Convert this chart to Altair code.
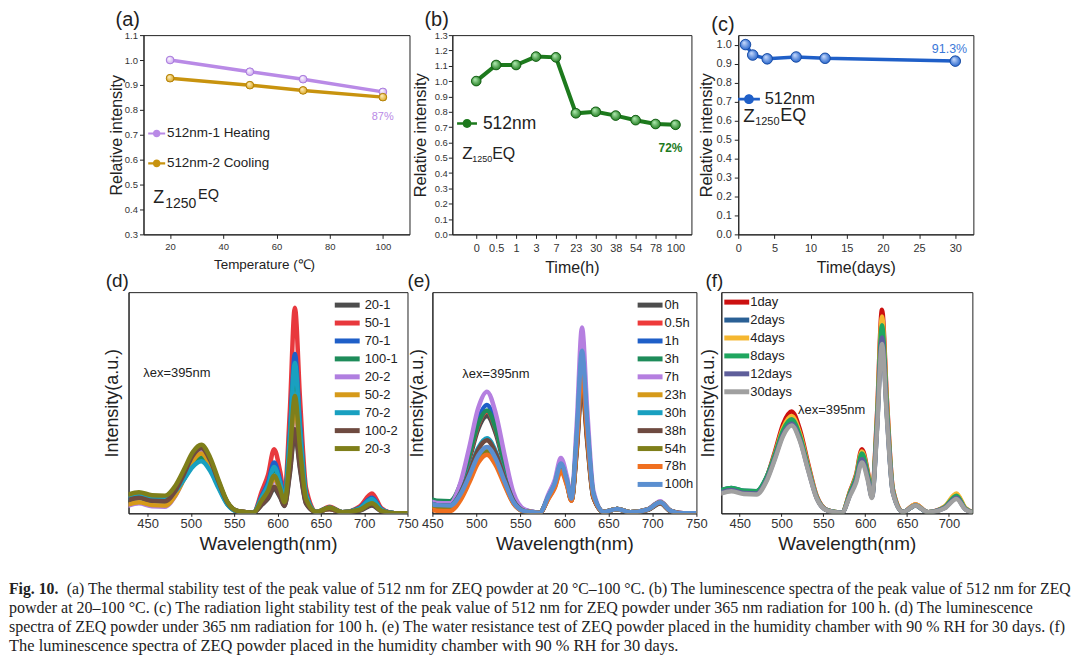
import altair as alt
import pandas as pd

SANS = "Liberation Sans"
SERIF = "Liberation Serif"
INK = "#222222"

# ---------------- (a) thermal stability ----------------
temperature = [20, 50, 70, 100]
heating = [1.0, 0.953, 0.923, 0.872]
cooling = [0.927, 0.899, 0.878, 0.851]
a_series = ["512nm-1 Heating", "512nm-2 Cooling"]
a_colors = ["#b98ae6", "#c8930e"]
a_temp_ticks = [20, 40, 60, 80, 100]
a_int_ticks = [0.3, 0.4, 0.5, 0.6, 0.7, 0.8, 0.9, 1.0, 1.1]

# ---------------- (b) radiation stability ----------------
time_h = ["0", "0.5", "1", "3", "7", "23", "30", "38", "54", "78", "100"]
intensity_h = [1.0, 1.105, 1.105, 1.16, 1.155, 0.79, 0.80, 0.775, 0.745, 0.72, 0.715]
b_int_ticks = [0.0, 0.1, 0.2, 0.3, 0.4, 0.5, 0.6, 0.7, 0.8, 0.9, 1.0, 1.1, 1.2, 1.3]

# ---------------- (c) water resistance ----------------
time_days = [1, 2, 4, 8, 12, 30]
intensity_days = [1.0, 0.945, 0.925, 0.935, 0.928, 0.913]
c_day_ticks = [0, 5, 10, 15, 20, 25, 30]
c_int_ticks = [0.0, 0.1, 0.2, 0.3, 0.4, 0.5, 0.6, 0.7, 0.8, 0.9, 1.0]

# ---------------- spectra (relative height, % of panel) ----------------
wavelength = [428, 440, 455, 470, 482, 492, 502, 512, 522, 532, 542, 555, 572, 582, 589,
              596, 603, 608, 614, 620, 626, 633, 645, 660, 675, 695, 709, 720, 735, 750]
wl_ticks = [450, 500, 550, 600, 650, 700, 750]

d_names = ["20-1", "50-1", "70-1", "100-1", "20-2", "50-2", "70-2", "100-2", "20-3"]
d_colors = ["#4d4d4d", "#e8383d", "#1f5fc8", "#1e8c5a", "#b07fe0", "#d69a1a", "#19a0c0", "#6e4a40", "#7f7f1a"]
d_20_1 = [6, 7, 5.7, 5.5, 10.1, 17.5, 25.6, 29, 23.8, 13.9, 4.9, 0.9, 0.3, 3.9, 6.6, 11, 7.2, 3.3, 17.3, 36, 19.8, 4.3, 0.6, 2, 0.5, 1.2, 3.5, 0.9, 0, 0]
d_50_1 = [6.5, 7.5, 6.2, 6, 10.2, 16.8, 23.9, 27, 22.1, 13, 4.6, 0.8, 0.3, 10.2, 17.4, 29, 18.9, 8.6, 44.8, 93, 51.2, 11.2, 0.6, 3, 0.5, 3.2, 9, 2.3, 0, 0]
d_70_1 = [6.5, 7.5, 6.2, 6, 10, 16.3, 23.1, 26, 21.3, 12.5, 4.4, 0.8, 0.3, 8.1, 13.8, 23, 15, 6.8, 34.7, 72, 39.6, 8.6, 0.6, 2.5, 0.5, 2.5, 7, 1.8, 0, 0]
d_100_1 = [6, 7, 5.7, 5.5, 9.4, 15.5, 22.2, 25, 20.5, 12, 4.3, 0.8, 0.3, 7, 12, 20, 13, 6, 31.7, 66, 36.3, 7.9, 0.6, 2.5, 0.5, 2.1, 6, 1.5, 0, 0]
d_20_2 = [3.5, 4.5, 3.2, 3, 7.9, 15.8, 24.3, 28, 23, 13.4, 4.8, 0.8, 0.3, 5.3, 9, 15, 9.8, 4.4, 23.1, 48, 26.4, 5.8, 0.6, 2, 0.5, 1.6, 4.5, 1.1, 0, 0]
d_50_2 = [4, 5, 3.7, 3.5, 8.1, 15.5, 23.6, 27, 22.1, 13, 4.6, 0.8, 0.3, 5.6, 9.6, 16, 10.4, 4.7, 24.1, 50, 27.5, 6, 0.6, 2, 0.5, 1.8, 5, 1.3, 0, 0]
d_70_2 = [7, 8, 6.7, 6.5, 10, 15.3, 21, 23.5, 19.3, 11.3, 4, 0.7, 0.3, 7.4, 12.6, 21, 13.7, 6.2, 32.7, 68, 37.4, 8.2, 0.6, 2.5, 0.5, 2.3, 6.5, 1.6, 0, 0]
d_100_2 = [6, 7, 5.7, 5.5, 10.2, 17.8, 26, 29.5, 24.2, 14.2, 5, 0.9, 0.3, 4.2, 7.2, 12, 7.8, 3.5, 18.3, 38, 20.9, 4.6, 0.6, 2, 0.5, 1.4, 4, 1, 0, 0]
d_20_3 = [8.5, 9.5, 8.2, 8, 12.5, 19.8, 27.6, 31, 25.4, 14.9, 5.3, 0.9, 0.3, 6, 10.2, 17, 11, 5, 25.6, 53, 29.2, 6.4, 0.6, 2.5, 0.5, 1.6, 4.5, 1.1, 0, 0]

e_names = ["0h", "0.5h", "1h", "3h", "7h", "23h", "30h", "38h", "54h", "78h", "100h"]
e_colors = ["#4d4d4d", "#ee3a3a", "#1f5fc8", "#1e8c5a", "#b57fe0", "#d69a1a", "#19a0c0", "#6e4a40", "#7f7f1a", "#f07020", "#5b8fd0"]
e_0h = [4.5, 5.5, 4.2, 4, 11.6, 24.3, 38.1, 44, 36.1, 21.1, 7.5, 1.3, 0.3, 7.4, 12.6, 21, 13.7, 5.9, 28.2, 58, 31.9, 7, 0.6, 2, 0.5, 1.6, 4.5, 1.1, 0, 0]
e_05h = [5, 6, 4.7, 4.5, 12.4, 25.5, 39.9, 46, 37.7, 22.1, 7.8, 1.4, 0.3, 7.7, 13.2, 22, 14.3, 6.3, 30.1, 62, 34.1, 7.4, 0.6, 2, 0.5, 1.8, 5, 1.3, 0, 0]
e_1h = [5, 6, 4.7, 4.5, 12.9, 27, 42.4, 49, 40.2, 23.5, 8.3, 1.5, 0.3, 8, 13.8, 23, 15, 6.6, 32, 66, 36.3, 7.9, 0.6, 2, 0.5, 1.8, 5, 1.3, 0, 0]
e_3h = [6, 7, 5.7, 5.5, 13.3, 26.3, 40.4, 46.5, 38.1, 22.3, 7.9, 1.4, 0.3, 7.7, 13.2, 22, 14.3, 6.3, 31, 64, 35.2, 7.7, 0.6, 2, 0.5, 1.8, 5, 1.3, 0, 0]
e_7h = [5, 6, 4.7, 4.5, 14, 30, 47.5, 55, 45.1, 26.4, 9.4, 1.7, 0.3, 8.8, 15, 25, 16.3, 7.5, 40.3, 84, 46.2, 10.1, 0.6, 2, 0.5, 1.9, 5.5, 1.4, 0, 0]
e_23h = [3, 4, 2.7, 2.5, 7.7, 16, 25.1, 29, 23.8, 13.9, 4.9, 0.9, 0.3, 7.4, 12.6, 21, 13.7, 6.2, 31.8, 66, 36.3, 7.9, 0.6, 2, 0.5, 1.8, 5, 1.3, 0, 0]
e_30h = [4, 5, 3.7, 3.5, 9.4, 19, 29.5, 34, 27.9, 16.3, 5.8, 1, 0.3, 7.7, 13.2, 22, 14.3, 6.5, 33.7, 70, 38.5, 8.4, 0.6, 2, 0.5, 1.8, 5, 1.3, 0, 0]
e_38h = [4, 5, 3.7, 3.5, 9.2, 18.5, 28.7, 33, 27.1, 15.8, 5.6, 1, 0.3, 7, 12, 20, 13, 5.8, 29, 60, 33, 7.2, 0.6, 2, 0.5, 1.6, 4.5, 1.1, 0, 0]
e_54h = [3, 4, 2.7, 2.5, 7.5, 15.5, 24.3, 28, 23, 13.4, 4.8, 0.8, 0.3, 7.4, 12.6, 21, 13.7, 6.2, 32.3, 67, 36.9, 8, 0.6, 2, 0.5, 1.8, 5, 1.3, 0, 0]
e_78h = [1.5, 2.5, 1.2, 1, 6, 14, 22.8, 26.5, 21.7, 12.7, 4.5, 0.8, 0.3, 6.7, 11.4, 19, 12.4, 5.7, 30.7, 64, 35.2, 7.7, 0.6, 2, 0.5, 1.8, 5, 1.3, 0, 0]
e_100h = [4, 5, 3.7, 3.5, 8.7, 17, 26.1, 30, 24.6, 14.4, 5.1, 0.9, 0.3, 7.9, 13.5, 22.5, 14.6, 6.7, 35.4, 73.5, 40.4, 8.8, 0.6, 2, 0.5, 1.8, 5, 1.3, 0, 0]

f_names = ["1day", "2days", "4days", "8days", "12days", "30days"]
f_colors = ["#cc1010", "#2a6095", "#f5b730", "#1fa65f", "#5e5e9a", "#a0a0a0"]
f_1 = [9.5, 10.5, 9.2, 9, 16.1, 27.8, 40.5, 46, 37.7, 22.1, 7.8, 1.4, 0.3, 10.2, 17.4, 29, 18.9, 8.6, 44.3, 92, 50.6, 11, 0.6, 4, 0.5, 3, 8.5, 2.1, 0, 0]
f_2 = [10.5, 11.5, 10.2, 10, 16.2, 26.3, 37.3, 42, 34.4, 20.2, 7.1, 1.3, 0.3, 8.8, 15, 25, 16.3, 7.4, 38.5, 80, 44, 9.6, 0.6, 3.5, 0.5, 2.5, 7, 1.8, 0, 0]
f_4 = [9.5, 10.5, 9.2, 9, 15.7, 26.8, 38.8, 44, 36.1, 21.1, 7.5, 1.3, 0.3, 9.8, 16.8, 28, 18.2, 8.3, 42.8, 89, 49, 10.7, 0.6, 4, 0.5, 3.2, 9, 2.3, 0, 0]
f_8 = [10.5, 11.5, 10.2, 10, 16.3, 26.5, 37.7, 42.5, 34.9, 20.4, 7.2, 1.3, 0.3, 9.5, 16.2, 27, 17.6, 8, 41, 85, 46.8, 10.2, 0.6, 3.5, 0.5, 2.8, 8, 2, 0, 0]
f_12 = [9.5, 10.5, 9.2, 9, 15.1, 25, 35.9, 40.5, 33.2, 19.4, 6.9, 1.2, 0.3, 8.6, 14.7, 24.5, 15.9, 7.3, 38.3, 79.5, 43.7, 9.5, 0.6, 3.5, 0.5, 2.5, 7, 1.8, 0, 0]
f_30 = [9, 10, 8.7, 8.5, 14.5, 24.4, 35.1, 39.7, 32.6, 19.1, 6.7, 1.2, 0.3, 8.1, 13.8, 23, 15, 6.9, 36.8, 76.6, 42.1, 9.2, 0.6, 3.5, 0.5, 2.3, 6.5, 1.6, 0, 0]

# ---------------- caption ----------------
cap_bold = "Fig. 10."
cap_line1 = "(a) The thermal stability test of the peak value of 512 nm for ZEQ powder at 20 °C–100 °C. (b) The luminescence spectra of the peak value of 512 nm for ZEQ"
cap_line2 = "powder at 20–100 °C. (c) The radiation light stability test of the peak value of 512 nm for ZEQ powder under 365 nm radiation for 100 h. (d) The luminescence"
cap_line3 = "spectra of ZEQ powder under 365 nm radiation for 100 h. (e) The water resistance test of ZEQ powder placed in the humidity chamber with 90 % RH for 30 days. (f)"
cap_line4 = "The luminescence spectra of ZEQ powder placed in the humidity chamber with 90 % RH for 30 days."

LINE_SYMBOL = "M-2.5,0L2.5,0"
BALL_SYMBOL = ("M-1.7,-0.22L-0.6,-0.22L-0.6,0.22L-1.7,0.22Z "
               "M0.6,-0.22L1.7,-0.22L1.7,0.22L0.6,0.22Z "
               "M-0.76,0A0.76,0.76,0,1,1,0.76,0A0.76,0.76,0,1,1,-0.76,0Z")


def sphere(light, base):
    return alt.RadialGradient(
        gradient="radial",
        stops=[alt.GradientStop(color=light, offset=0), alt.GradientStop(color=base, offset=1)],
        x1=0.35, y1=0.3, r1=0, x2=0.5, y2=0.5, r2=0.55,
    )


def panel_title(text, dx, offset, size):
    return alt.TitleParams(text=text, anchor="start", frame="group", dx=dx, offset=offset,
                           fontSize=size, font=SANS, fontWeight="normal", color=INK)


def text_layer(df, x, y, **kw):
    return alt.Chart(df).mark_text(baseline="middle", **kw).encode(x=x, y=y, text="txt:N")


# ================= panel (a) =================
df_a = pd.DataFrame({"T": temperature + temperature, "v": heating + cooling,
                     "s": [a_series[0]] * 4 + [a_series[1]] * 4})
xa = alt.X("T:Q", scale=alt.Scale(domain=[10, 110], nice=False, zero=False),
           axis=alt.Axis(values=a_temp_ticks, title="Temperature (℃)", titleFontSize=13.5,
                         titlePadding=7, titleX=121, labelFontSize=9.5, tickSize=4, labelPadding=3,
                         labelFlush=False))
ya = alt.Y("v:Q", scale=alt.Scale(domain=[0.3, 1.1], nice=False, zero=False),
           axis=alt.Axis(values=a_int_ticks, format=".1f", title="Relative intensity",
                         titleFontSize=16, titlePadding=0, labelFontSize=9.5,
                         tickSize=4, labelPadding=2, labelOverlap=False, labelFlush=False))
a_layers = []
for name, col in zip(a_series, a_colors):
    a_layers.append(alt.Chart(df_a).transform_filter(alt.datum.s == name)
                    .mark_line(color=col, strokeWidth=3.5).encode(x=xa, y=ya))
a_layers.append(alt.Chart(df_a).mark_circle(size=60, opacity=1).encode(
    x=xa, y=ya,
    color=alt.Color("s:N", scale=alt.Scale(domain=a_series, range=a_colors),
                    legend=alt.Legend(title=None, orient="none", legendX=6.5, legendY=92,
                                      symbolType=BALL_SYMBOL, symbolSize=100,
                                      labelFontSize=13.5, labelColor=INK, labelOffset=3.5,
                                      rowPadding=15, padding=0))))
for name, light, base, edge in zip(a_series, ["#ffffff", "#fff3c8"], ["#c9a2ee", "#d9a21a"], ["#a070d8", "#a87700"]):
    a_layers.append(alt.Chart(df_a).transform_filter(alt.datum.s == name)
                    .mark_circle(size=60, opacity=1, fill=sphere(light, base), stroke=edge, strokeWidth=0.8)
                    .encode(x=xa, y=ya))
a_layers.append(text_layer(pd.DataFrame({"T": [13.7], "v": [0.445], "txt": ["Z"]}), xa, ya, align="left", font=SANS, fontSize=18, color=INK))
a_layers.append(text_layer(pd.DataFrame({"T": [18.2], "v": [0.421], "txt": ["1250"]}), xa, ya, align="left", font=SANS, fontSize=14, color=INK))
a_layers.append(text_layer(pd.DataFrame({"T": [30.5], "v": [0.458], "txt": ["EQ"]}), xa, ya, align="left", font=SANS, fontSize=14.5, color=INK))
a_layers.append(text_layer(pd.DataFrame({"T": [95.8], "v": [0.772], "txt": ["87%"]}), xa, ya, align="left", font=SANS, fontSize=11, color="#b98ae6"))
panel_a = alt.layer(*a_layers).properties(width=267, height=200, title=panel_title("(a)", -28, 0, 20))

# ================= panel (b) =================
df_b = pd.DataFrame({"t": time_h, "v": intensity_h, "s": ["512nm"] * len(time_h)})
xb = alt.X("t:O", scale=alt.Scale(type="point", domain=time_h, padding=1, align=0.6),
           axis=alt.Axis(title="Time(h)", titleFontSize=16, titlePadding=6, labelAngle=0,
                         labelFontSize=11, tickSize=4, labelPadding=4))
yb = alt.Y("v:Q", scale=alt.Scale(domain=[0, 1.3], nice=False),
           axis=alt.Axis(values=b_int_ticks, format=".1f", title="Relative intensity",
                         titleFontSize=16.5, titlePadding=6, labelFontSize=9.5,
                         tickSize=4, labelPadding=1, labelOverlap=False, labelFlush=False))
b_col = "#1d7a1d"
b_layers = [
    alt.Chart(df_b).mark_line(color=b_col, strokeWidth=4).encode(x=xb, y=yb),
    alt.Chart(df_b).mark_circle(size=95, opacity=1).encode(
        x=xb, y=yb,
        color=alt.Color("s:N", scale=alt.Scale(domain=["512nm"], range=[b_col]),
                        legend=alt.Legend(title=None, orient="none", legendX=6, legendY=80,
                                          symbolType=BALL_SYMBOL, symbolSize=138,
                                          labelFontSize=17.5, labelColor=INK, labelOffset=7.2,
                                          padding=0))),
    alt.Chart(df_b).mark_circle(size=95, opacity=1, fill=sphere("#b8f0b8", b_col), stroke="#0e550e", strokeWidth=0.8).encode(x=xb, y=yb),
    text_layer(pd.DataFrame({"t": ["0"], "v": [0.525], "txt": ["Z"]}), xb, yb, align="left", dx=-14, font=SANS, fontSize=17, color=INK),
    text_layer(pd.DataFrame({"t": ["0"], "v": [0.49], "txt": ["1250"]}), xb, yb, align="left", dx=-4, font=SANS, fontSize=9, color=INK),
    text_layer(pd.DataFrame({"t": ["0"], "v": [0.525], "txt": ["EQ"]}), xb, yb, align="left", dx=16, font=SANS, fontSize=16, color=INK),
    text_layer(pd.DataFrame({"t": ["100"], "v": [0.565], "txt": ["72%"]}), xb, yb, align="center", dx=-5, font=SANS, fontSize=12, fontWeight="bold", color=b_col),
]
panel_b = alt.layer(*b_layers).properties(width=240, height=200, title=panel_title("(b)", -28, 0, 20))

# ================= panel (c) =================
df_c = pd.DataFrame({"d": time_days, "v": intensity_days, "s": ["512nm"] * len(time_days)})
xc = alt.X("d:Q", scale=alt.Scale(domain=[0, 32.5], nice=False, zero=False),
           axis=alt.Axis(values=c_day_ticks, title="Time(days)", titleFontSize=16, titlePadding=6,
                         labelFontSize=11, tickSize=4, labelPadding=4, labelFlush=False))
yc = alt.Y("v:Q", scale=alt.Scale(domain=[0, 1.05], nice=False),
           axis=alt.Axis(values=c_int_ticks, format=".1f", title="Relative intensity",
                         titleFontSize=16.5, titlePadding=2, labelFontSize=11,
                         tickSize=4, labelPadding=3, labelOverlap=False, labelFlush=False))
c_col = "#1f5fc8"
c_layers = [
    alt.Chart(df_c).mark_line(color=c_col, strokeWidth=3.5).encode(x=xc, y=yc),
    alt.Chart(df_c).mark_circle(size=113, opacity=1).encode(
        x=xc, y=yc,
        color=alt.Color("s:N", scale=alt.Scale(domain=["512nm"], range=[c_col]),
                        legend=alt.Legend(title=None, orient="none", legendX=2.5, legendY=56,
                                          symbolType=BALL_SYMBOL, symbolSize=167,
                                          labelFontSize=16.5, labelColor=INK, labelOffset=7.5,
                                          padding=0))),
    alt.Chart(df_c).mark_circle(size=113, opacity=1, fill=sphere("#cfe0ff", c_col), stroke="#12449a", strokeWidth=0.8).encode(x=xc, y=yc),
    text_layer(pd.DataFrame({"d": [0.69], "v": [0.625], "txt": ["Z"]}), xc, yc, align="left", font=SANS, fontSize=19, color=INK),
    text_layer(pd.DataFrame({"d": [2.34], "v": [0.594], "txt": ["1250"]}), xc, yc, align="left", font=SANS, fontSize=11, color=INK),
    text_layer(pd.DataFrame({"d": [5.8], "v": [0.625], "txt": ["EQ"]}), xc, yc, align="left", font=SANS, fontSize=18, color=INK),
    text_layer(pd.DataFrame({"d": [29.2], "v": [0.979], "txt": ["91.3%"]}), xc, yc, align="center", font=SANS, fontSize=12.5, color="#3a78d8"),
]
panel_c = alt.layer(*c_layers).properties(width=236, height=200, title=panel_title("(c)", -27, 0, 20))


# ================= spectra panels =================
def long_frame(names, arrays):
    rows = []
    for k, (n, arr) in enumerate(zip(names, arrays)):
        for w, v in zip(wavelength, arr):
            rows.append({"wl": w, "v": v, "s": n, "k": k})
    return pd.DataFrame(rows)


def spectra(names, arrays, colors, xdom, xticks, lam_x, lam_y, leg_x, leg_y, rowpad, lab_off,
            ytp, w, h, title, tdx, toff):
    df = long_frame(names, arrays)
    x = alt.X("wl:Q", scale=alt.Scale(domain=xdom, nice=False, zero=False),
              axis=alt.Axis(values=xticks, title="Wavelength(nm)", titleFontSize=19, titlePadding=4,
                            labelFontSize=13, tickSize=3, labelPadding=1,
                            labelFlush=False, labelOverlap=False))
    y = alt.Y("v:Q", scale=alt.Scale(domain=[0, 100], nice=False),
              axis=alt.Axis(title="Intensity(a.u.)", labels=False, ticks=False, titleFontSize=18,
                            titlePadding=ytp))
    color = alt.Color("s:N", scale=alt.Scale(domain=names, range=colors),
                      legend=alt.Legend(title=None, orient="none", legendX=leg_x, legendY=leg_y,
                                        symbolType=LINE_SYMBOL, symbolSize=100, symbolStrokeWidth=5,
                                        labelFontSize=13, labelColor=INK,
                                        labelOffset=lab_off, rowPadding=rowpad, padding=0))
    layers = [alt.Chart(df).transform_filter(alt.datum.s == n)
              .mark_line(strokeWidth=4.5, interpolate="monotone", clip=True,
                         strokeCap="round", strokeJoin="round")
              .encode(x=x, y=y, color=color) for n in names]
    layers.append(text_layer(pd.DataFrame({"wl": [lam_x], "v": [lam_y], "txt": ["λex=395nm"]}),
                             x, y, align="left", font=SANS, fontSize=13, color=INK))
    return alt.layer(*layers).properties(width=w, height=h, title=panel_title(title, tdx, toff, 19))


panel_d = spectra(d_names, [d_20_1, d_50_1, d_70_1, d_100_1, d_20_2, d_50_2, d_70_2, d_100_2, d_20_3],
                  d_colors, [428, 750], wl_ticks, 445, 63.6, 212, 5.5, -9.6, 10, 7, 280, 222, "(d)", -23, 1)
panel_e = spectra(e_names, [e_0h, e_05h, e_1h, e_3h, e_7h, e_23h, e_30h, e_38h, e_54h, e_78h, e_100h],
                  e_colors, [450, 750], wl_ticks, 484, 63, 211, 5.5, -9.5, 7, 6, 265, 222, "(e)", -25, 1)
panel_f = spectra(f_names, [f_1, f_2, f_4, f_8, f_12, f_30],
                  f_colors, [428, 728], wl_ticks[:-1], 519.7, 46.8, 8, 2.5, -6.1, 6, 4, 252, 222, "(f)", -16, 1)


# ================= spacers & caption =================
def spacer(w, h):
    return (alt.Chart(pd.DataFrame({"z": [0]})).mark_text(text="")
            .encode(x=alt.value(0), y=alt.value(0))
            .properties(width=w, height=h, view=alt.ViewBackground(stroke="transparent")))


cap_rows = [0, 1, 2, 3]
y_cap = alt.Y("i:O", axis=None, scale=alt.Scale(type="point", domain=cap_rows, padding=0.921, align=1))


def cap_text(rows, texts, size, **kw):
    return (alt.Chart(pd.DataFrame({"i": rows, "txt": texts}))
            .mark_text(align="left", baseline="middle", font=SERIF, fontSize=size, color=INK, **kw)
            .encode(x=alt.value(0), y=y_cap, text="txt:N"))


caption = alt.layer(
    cap_text([0], [cap_bold], 15.8, fontWeight="bold"),
    cap_text([0], [cap_line1], 15.8, dx=58),
    cap_text([1], [cap_line2], 16.1),
    cap_text([2], [cap_line3], 16.0),
    cap_text([3], [cap_line4], 16.5),
).properties(width=1060, height=92, view=alt.ViewBackground(stroke="transparent"))

row1 = alt.hconcat(spacer(125, 200), panel_a, spacer(23, 200), panel_b, spacer(27, 200), panel_c,
                   spacing=10, bounds="flush").resolve_scale(color="independent").resolve_legend(color="independent")
row2 = alt.hconcat(spacer(110, 222), panel_d, spacer(5, 222), panel_e, spacer(5, 222), panel_f,
                   spacing=10, bounds="flush").resolve_scale(color="independent").resolve_legend(color="independent")

chart = alt.vconcat(
    row1, row2, caption, spacing=-5
).resolve_scale(
    color="independent"
).resolve_legend(
    color="independent"
).properties(
    padding={"left": 0, "top": 0, "right": 0, "bottom": 0}
).configure_view(
    stroke=INK, strokeWidth=1
).configure_axis(
    grid=False, domainColor=INK, tickColor=INK, labelColor="#333333", titleColor=INK,
    titleFont=SANS, labelFont=SANS, titleFontWeight="normal"
).configure_legend(
    labelFont=SANS
)

chart.save("out.html", embed_options={"renderer": "svg", "actions": False})
